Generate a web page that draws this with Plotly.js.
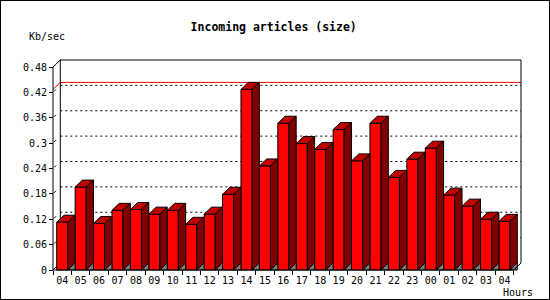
<!DOCTYPE html>
<html>
<head>
<meta charset="utf-8">
<script src="https://cdn.plot.ly/plotly-3.0.1.min.js"></script>
<style>
  html, body { margin: 0; padding: 0; background: #fff; }
  #wrap { position: relative; width: 550px; height: 300px; }
  #chart { width: 550px; height: 300px; }
  #frame { position: absolute; left: 0; top: 0; width: 550px; height: 300px; box-sizing: border-box; border: 1px solid #000; pointer-events: none; }
</style>
</head>
<body>
<div id="wrap"><div id="chart"></div><div id="frame"></div></div>
<script>
// ---- data ----
const hours = ['04','05','06','07','08','09','10','11','12','13','14','15','16','17','18','19','20','21','22','23','00','01','02','03','04'];
const values = [0.113, 0.196, 0.110, 0.141, 0.143, 0.132, 0.141, 0.108, 0.132, 0.179, 0.427, 0.246, 0.347, 0.299, 0.285, 0.332, 0.258, 0.347, 0.219, 0.262, 0.288, 0.177, 0.151, 0.120, 0.115];
const yTickVals = [0, 0.06, 0.12, 0.18, 0.24, 0.30, 0.36, 0.42, 0.48];
const yTickText = ['0', '0.06', '0.12', '0.18', '0.24', '0.3', '0.36', '0.42', '0.48'];
const titleText = 'Incoming articles (size)';
const yUnit = 'Kb/sec';
const xUnit = 'Hours';

// ---- geometry (pixel scale of the pseudo-3D look) ----
const PXX = 18.43, PXY = 422.9;
const DX = 7.3 / PXX, DY = 7 / PXY;       // depth offset in data units
const PADX = 2 / PXX, PADY = 2 / PXY;
const YMAX = 0.48;
const n = hours.length;
const XL = -0.5, XR = n - 0.5;
const xr = [XL - PADX, XR + DX + PADX];
const yr = [-PADY, YMAX + DY + PADY];
const L = 51, B = 28, PW = 472, PH = 214;
const T = 300 - B - PH, R = 550 - L - PW;
const px2paperX = p => (p - L) / PW;
const px2paperY = p => (300 - B - p) / PH;

const xs = hours.map((_, i) => i);
const HW = 0.3;

// faces
const topX = [], topY = [], sideX = [], sideY = [], floorX = [], floorY = [];
xs.forEach((x, i) => {
  const v = values[i];
  const a = x - HW, b = x + HW;
  topX.push(a, a + DX, b + DX, b, a, null);
  topY.push(v, v + DY, v + DY, v, v, null);
  sideX.push(b, b + DX, b + DX, b, b, null);
  sideY.push(v, v + DY, DY, 0, v, null);
  floorX.push(b, b + DX, b + DX, b, null);
  floorY.push(0, DY, 0, 0, null);
});

const traces = [
  { type: 'bar', x: xs, y: values, width: 2 * HW,
    marker: { color: '#ff0000', line: { color: '#000', width: 1 } }, hoverinfo: 'skip' },
  { type: 'scatter', mode: 'lines', x: topX, y: topY, fill: 'toself', fillcolor: '#c00000',
    line: { color: '#000', width: 1 }, hoverinfo: 'skip' },
  { type: 'scatter', mode: 'lines', x: sideX, y: sideY, fill: 'toself', fillcolor: '#800000',
    line: { color: '#000', width: 1 }, hoverinfo: 'skip' },
  { type: 'scatter', mode: 'lines', x: floorX, y: floorY, fill: 'toself', fillcolor: '#808080',
    line: { color: '#000', width: 1 }, hoverinfo: 'skip' }
];

const vmax = Math.max(...values);
const blk = { color: '#000', width: 1 };
const shapes = [];
// back-wall dotted gridlines
yTickVals.filter(v => v > 0 && v < YMAX).forEach(v => {
  shapes.push({ type: 'line', layer: 'below', xref: 'x', yref: 'y',
    x0: XL + DX, x1: XR + DX, y0: v + DY, y1: v + DY,
    line: { color: '#000', width: 1, dash: '2px,3px' } });
  // short depth marks at the front axis
  shapes.push({ type: 'line', layer: 'below', xref: 'x', yref: 'y',
    x0: XL + 1 / PXX, x1: XL + 3 / PXX, y0: v + 1 / PXY, y1: v + 3 / PXY, line: blk });
});
// max line (red)
shapes.push({ type: 'path', layer: 'below', xref: 'x', yref: 'y',
  path: `M${XL},${vmax} L${XL + DX},${vmax + DY} L${XR + DX},${vmax + DY}`,
  line: { color: '#ff0000', width: 1 } });
// back wall left edge & floor left diagonal
shapes.push({ type: 'line', layer: 'below', xref: 'x', yref: 'y', x0: XL + DX, x1: XL + DX, y0: DY, y1: YMAX + DY, line: blk });
shapes.push({ type: 'line', layer: 'below', xref: 'x', yref: 'y', x0: XL, x1: XL + DX, y0: 0, y1: DY, line: blk });
// frame lines
shapes.push({ type: 'path', layer: 'above', xref: 'x', yref: 'y',
  path: `M${XL},0 L${XL},${YMAX} L${XL + DX},${YMAX + DY} L${XR + DX},${YMAX + DY} L${XR + DX},${DY} L${XR},0 Z`,
  line: blk });

const layout = {
  width: 550, height: 300,
  margin: { l: L, r: R, t: T, b: B, pad: 0 },
  paper_bgcolor: '#fff', plot_bgcolor: '#fff',
  showlegend: false, hovermode: false,
  font: { family: 'DejaVu Sans Mono, monospace', size: 10, color: '#000' },
  title: { text: '<b>' + titleText + '</b>', xref: 'container', yref: 'container',
    x: 273.7 / 550, y: 1 - 27 / 300, xanchor: 'center', yanchor: 'middle',
    font: { family: 'DejaVu Sans Mono, monospace', size: 11.5, color: '#000' } },
  xaxis: { range: xr, anchor: 'free', position: PADY / (yr[1] - yr[0]),
    tickmode: 'array', tickvals: xs, ticktext: hours, ticks: '', ticklabelstandoff: 3,
    showgrid: false, zeroline: false, showline: false, fixedrange: true,
    tickfont: { family: 'DejaVu Sans Mono, monospace', size: 10, color: '#000' },
    minor: { tick0: -0.5, dtick: 1, ticks: 'outside', ticklen: 4, tickcolor: '#000', tickwidth: 1, showgrid: false } },
  yaxis: { range: yr, anchor: 'free', position: PADX / (xr[1] - xr[0]),
    tickmode: 'array', tickvals: yTickVals, ticktext: yTickText,
    ticks: 'outside', ticklen: 4, tickcolor: '#000', tickwidth: 1,
    showgrid: false, zeroline: false, showline: false, fixedrange: true,
    tickfont: { family: 'DejaVu Sans Mono, monospace', size: 10, color: '#000' } },
  shapes: shapes,
  annotations: [
    { text: yUnit, xref: 'paper', yref: 'paper', x: px2paperX(47.2), y: px2paperY(36.7),
      xanchor: 'center', yanchor: 'middle', showarrow: false,
      font: { family: 'DejaVu Sans Mono, monospace', size: 10, color: '#000' } },
    { text: xUnit, xref: 'paper', yref: 'paper', x: px2paperX(535), y: px2paperY(292),
      xanchor: 'right', yanchor: 'middle', showarrow: false,
      font: { family: 'DejaVu Sans Mono, monospace', size: 10, color: '#000' } }
  ]
};

Plotly.newPlot('chart', traces, layout, { displayModeBar: false, staticPlot: true });
</script>
</body>
</html>
